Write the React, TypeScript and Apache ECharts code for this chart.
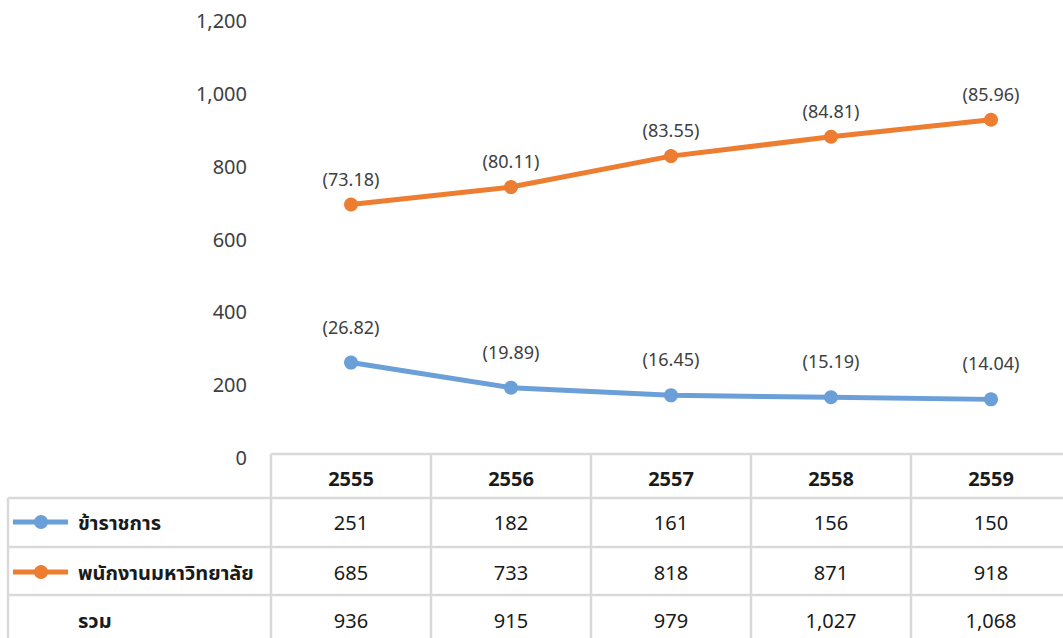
import React, { useEffect, useRef } from "react";
import * as echarts from "echarts";

const years = ["2555", "2556", "2557", "2558", "2559"];
const civilName = "ข้าราชการ";
const staffName = "พนักงานมหาวิทยาลัย";
const totalName = "รวม";
const civil = [251, 182, 161, 156, 150];
const staff = [685, 733, 818, 871, 918];
const total = [936, 915, 979, 1027, 1068];
const civilPct = ["(26.82)", "(19.89)", "(16.45)", "(15.19)", "(14.04)"];
const staffPct = ["(73.18)", "(80.11)", "(83.55)", "(84.81)", "(85.96)"];

const BLUE = "#6A9FD8";
const ORANGE = "#ED7D31";
const GRID = "#D9D9D9";
const FONT = '"Noto Sans", "Noto Sans Thai", Tahoma, "DejaVu Sans", sans-serif';

const fmt = (v: number) => v.toLocaleString("en-US");

export default function App() {
  const ref = useRef<HTMLDivElement>(null);
  useEffect(() => {
    if (!ref.current) return;
    const chart = echarts.init(ref.current, undefined, { renderer: "svg" });
    chart.setOption({
      animation: false,
      backgroundColor: "#ffffff",
      grid: { left: 271, top: 17, width: 800, height: 437 },
      xAxis: {
        type: "category",
        data: years,
        boundaryGap: true,
        axisLine: { show: false },
        axisTick: { show: false },
        axisLabel: { show: false },
        splitLine: { show: false },
      },
      yAxis: {
        type: "value",
        min: 0,
        max: 1200,
        interval: 200,
        axisLine: { show: false },
        axisTick: { show: false },
        splitLine: { show: false },
        axisLabel: {
          margin: 24,
          fontSize: 20,
          color: "#404040",
          fontFamily: FONT,
          verticalAlign: "top",
          lineHeight: 7,
          formatter: (v: number) => fmt(v),
        },
      },
      series: [
        {
          name: civilName,
          type: "line",
          data: civil,
          symbol: "circle",
          symbolSize: 14,
          lineStyle: { color: BLUE, width: 5 },
          itemStyle: { color: BLUE },
          label: {
            show: true,
            position: "top",
            distance: 20,
            fontSize: 18,
            color: "#404040",
            fontFamily: FONT,
            formatter: (p: any) => civilPct[p.dataIndex],
          },
        },
        {
          name: staffName,
          type: "line",
          data: staff,
          symbol: "circle",
          symbolSize: 14,
          lineStyle: { color: ORANGE, width: 5 },
          itemStyle: { color: ORANGE },
          label: {
            show: true,
            position: "top",
            distance: 10,
            fontSize: 18,
            color: "#404040",
            fontFamily: FONT,
            formatter: (p: any) => staffPct[p.dataIndex],
          },
        },
      ],
    });

    const cx = years.map((y) => chart.convertToPixel({ xAxisIndex: 0 }, y) as number);
    const band = cx.length > 1 ? cx[1] - cx[0] : 160;
    const y0 = chart.convertToPixel({ yAxisIndex: 0 }, 0) as number;
    const left = 8;
    const right = 1080;
    const bottom = 638;
    const rowLines = [y0, y0 + 44, y0 + 93, y0 + 141];
    const rowText = [y0 + 24, y0 + 68, y0 + 118, y0 + 166];
    const firstCol = cx[0] - band / 2;

    const els: any[] = [];
    const line = (x1: number, y1: number, x2: number, y2: number) =>
      els.push({
        type: "line",
        silent: true,
        shape: { x1, y1, x2, y2 },
        style: { stroke: GRID, lineWidth: 2.5 },
      });
    line(firstCol, rowLines[0], right, rowLines[0]);
    for (let i = 1; i < rowLines.length; i++) line(left, rowLines[i], right, rowLines[i]);
    line(left, rowLines[1], left, bottom);
    cx.forEach((c) => line(c - band / 2, rowLines[0], c - band / 2, bottom));
    line(cx[cx.length - 1] + band / 2, rowLines[0], cx[cx.length - 1] + band / 2, bottom);

    const text = (x: number, y: number, t: string, bold: boolean, align = "center") =>
      els.push({
        type: "text",
        silent: true,
        x,
        y,
        style: {
          text: t,
          fontSize: 20,
          fontWeight: bold ? "bold" : "normal",
          fontFamily: FONT,
          fill: "#1A1A1A",
          align,
          verticalAlign: "middle",
        },
      });
    years.forEach((y, i) => text(cx[i], rowText[0], y, true));
    civil.forEach((v, i) => text(cx[i], rowText[1], fmt(v), false));
    staff.forEach((v, i) => text(cx[i], rowText[2], fmt(v), false));
    total.forEach((v, i) => text(cx[i], rowText[3], fmt(v), false));

    const key = (y: number, color: string) => {
      els.push({
        type: "line",
        silent: true,
        shape: { x1: 13, y1: y, x2: 68, y2: y },
        style: { stroke: color, lineWidth: 5 },
      });
      els.push({
        type: "circle",
        silent: true,
        shape: { cx: 41, cy: y, r: 7 },
        style: { fill: color },
      });
    };
    key(rowText[1], BLUE);
    key(rowText[2], ORANGE);
    text(78, rowText[1], civilName, true, "left");
    text(78, rowText[2], staffName, true, "left");
    text(78, rowText[3], totalName, true, "left");

    chart.setOption({ graphic: els });
    return () => chart.dispose();
  }, []);
  return (
    <div
      style={{
        position: "absolute",
        left: 0,
        top: 0,
        width: 1063,
        height: 638,
        overflow: "hidden",
      }}
    >
      <div ref={ref} style={{ width: 1080, height: 638 }} />
    </div>
  );
}
